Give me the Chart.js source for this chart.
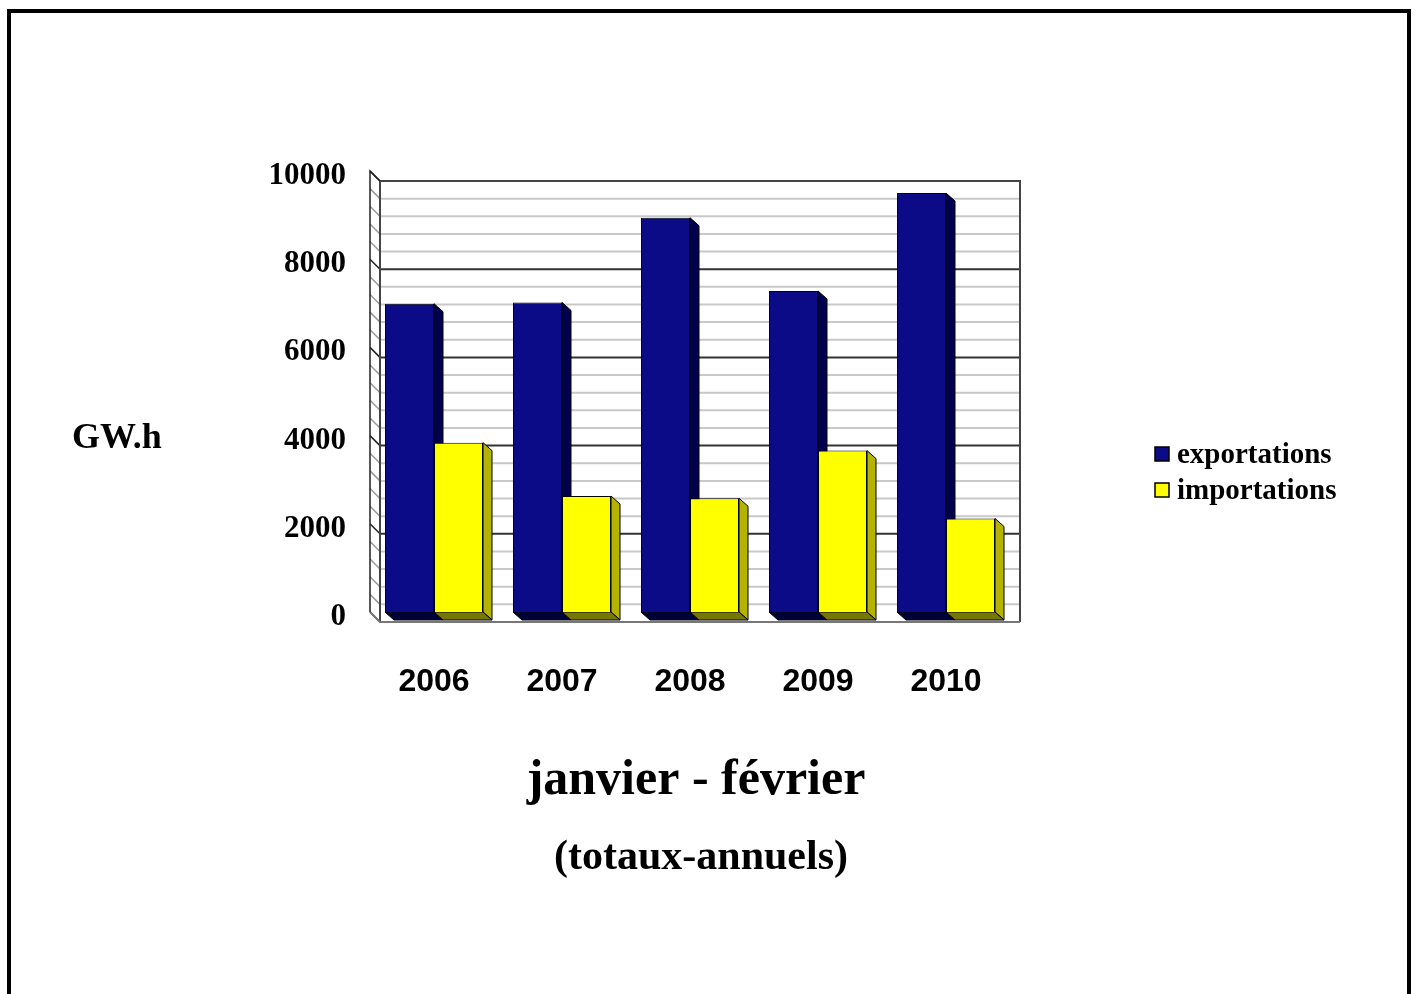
<!DOCTYPE html>
<html>
<head>
<meta charset="utf-8">
<script src="https://cdn.jsdelivr.net/npm/chart.js@4.4.1/dist/chart.umd.min.js"></script>
<style>
  html, body { margin: 0; padding: 0; background: #fff; overflow: hidden; }
  canvas { display: block; }
</style>
</head>
<body>
<canvas id="chart" width="1417" height="994"></canvas>
<script>
// valeurs (GW.h)
var years = ['2006', '2007', '2008', '2009', '2010'];
var exportations = [6990, 7020, 8940, 7280, 9500];
var importations = [3840, 2630, 2580, 3660, 2120];
var seriesNames = ['exportations', 'importations'];
var yMax = 10000;
var yMajorStep = 2000;
var yMinorStep = 400;

var frontColors = ['#0b0b88', '#ffff00'];
var sideColors = ['#000050', '#b4b400'];
var bottomColors = ['#00003a', '#767600'];
var serif = '"Liberation Serif", "Times New Roman", serif';

// fond 3D : mur du fond, mur gauche, sol et faces des barres
var wall3d = {
    id: 'wall3d',
    beforeDatasetsDraw: function(chart) {
        var ctx = chart.ctx;
        var a = chart.chartArea;
        var ys = chart.scales.y;
        var d = 10;
        ctx.save();
        // lignes de grille (mur du fond + mur gauche)
        ys.ticks.forEach(function(t) {
            var y = ys.getPixelForValue(t.value);
            var major = t.value % yMajorStep === 0;
            ctx.lineWidth = 2;
            ctx.strokeStyle = major ? '#333333' : '#c8c8c8';
            if (t.value !== 0 && t.value !== yMax) {
                ctx.beginPath();
                ctx.moveTo(a.left + d, y + d);
                ctx.lineTo(a.right + d, y + d);
                ctx.stroke();
            }
            ctx.lineWidth = 1.5;
            ctx.strokeStyle = major ? '#222222' : '#999999';
            ctx.beginPath();
            ctx.moveTo(a.left, y);
            ctx.lineTo(a.left + d, y + d);
            ctx.stroke();
        });
        // contour du mur du fond
        ctx.strokeStyle = '#444444';
        ctx.lineWidth = 2;
        ctx.beginPath();
        ctx.moveTo(a.left + d, a.bottom + d);
        ctx.lineTo(a.left + d, a.top + d);
        ctx.lineTo(a.right + d, a.top + d);
        ctx.lineTo(a.right + d, a.bottom + d);
        ctx.stroke();
        // sol
        ctx.strokeStyle = '#777777';
        ctx.beginPath();
        ctx.moveTo(a.left, a.bottom);
        ctx.lineTo(a.left + d, a.bottom + d);
        ctx.lineTo(a.right + d, a.bottom + d);
        ctx.stroke();
        // arête avant du mur gauche
        ctx.strokeStyle = '#222222';
        ctx.lineWidth = 1.5;
        ctx.beginPath();
        ctx.moveTo(a.left, a.bottom);
        ctx.lineTo(a.left, a.top);
        ctx.lineTo(a.left + d, a.top + d);
        ctx.stroke();

        // faces latérales et inférieures des barres
        var bx = 9, by = 8;
        ctx.lineWidth = 1;
        ctx.strokeStyle = '#000';
        chart.data.datasets.forEach(function(ds, i) {
            var meta = chart.getDatasetMeta(i);
            meta.data.forEach(function(bar) {
                var p = bar.getProps(['x', 'y', 'base', 'width'], true);
                var l = p.x - p.width / 2, r = p.x + p.width / 2;
                ctx.fillStyle = sideColors[i];
                ctx.beginPath();
                ctx.moveTo(r, p.y);
                ctx.lineTo(r + bx, p.y + by);
                ctx.lineTo(r + bx, p.base + by);
                ctx.lineTo(r, p.base);
                ctx.closePath();
                ctx.fill();
                ctx.stroke();
                ctx.fillStyle = bottomColors[i];
                ctx.beginPath();
                ctx.moveTo(l, p.base);
                ctx.lineTo(r, p.base);
                ctx.lineTo(r + bx, p.base + by);
                ctx.lineTo(l + bx, p.base + by);
                ctx.closePath();
                ctx.fill();
                ctx.stroke();
            });
        });
        ctx.restore();
    }
};

// textes, légende et cadre
var extras = {
    id: 'extras',
    afterDraw: function(chart) {
        var ctx = chart.ctx;
        ctx.save();
        ctx.fillStyle = '#000';
        ctx.textBaseline = 'middle';
        ctx.textAlign = 'left';
        ctx.font = 'bold 36px ' + serif;
        ctx.fillText('GW.h', 72, 439);

        ctx.textAlign = 'center';
        ctx.font = 'bold 50px ' + serif;
        ctx.fillText('janvier - février', 696, 781);
        ctx.font = 'bold 42px ' + serif;
        ctx.fillText('(totaux-annuels)', 701, 858);

        // légende
        ctx.textAlign = 'left';
        ctx.font = 'bold 29px ' + serif;
        seriesNames.forEach(function(name, i) {
            var y = 455 + i * 36;
            ctx.fillStyle = frontColors[i];
            ctx.fillRect(1155, y - 8, 14, 14);
            ctx.strokeStyle = '#000';
            ctx.lineWidth = 1.5;
            ctx.strokeRect(1155, y - 8, 14, 14);
            ctx.fillStyle = '#000';
            ctx.fillText(name, 1177, y + 1);
        });

        // cadre
        ctx.strokeStyle = '#000';
        ctx.lineWidth = 4;
        ctx.strokeRect(9, 11, 1400, 1000);
        ctx.restore();
    }
};

var ctx = document.getElementById('chart').getContext('2d');
var chart = new Chart(ctx, {
    type: 'bar',
    data: {
        labels: years,
        datasets: [{
            label: seriesNames[0],
            data: exportations,
            backgroundColor: frontColors[0],
            borderColor: '#000',
            borderWidth: 1
        }, {
            label: seriesNames[1],
            data: importations,
            backgroundColor: frontColors[1],
            borderColor: '#000',
            borderWidth: 1
        }]
    },
    options: {
        responsive: false,
        animation: false,
        devicePixelRatio: 1,
        categoryPercentage: 0.766,
        barPercentage: 1,
        layout: { padding: { left: 0, top: 171, right: 407, bottom: 0 } },
        plugins: {
            legend: { display: false },
            tooltip: { enabled: false }
        },
        scales: {
            x: {
                grid: { display: false, drawTicks: false },
                border: { display: false },
                ticks: {
                    color: '#000',
                    padding: 51,
                    font: { family: '"Liberation Sans", Arial, sans-serif', size: 32, weight: 'bold' }
                },
                afterFit: function(scale) { scale.height = 382; }
            },
            y: {
                min: 0,
                max: yMax,
                grid: { display: false, drawTicks: false },
                border: { display: false },
                ticks: {
                    stepSize: yMinorStep,
                    autoSkip: false,
                    color: '#000',
                    padding: 24,
                    labelOffset: 5,
                    font: { family: serif, size: 31, weight: 'bold' },
                    callback: function(v) { return v % yMajorStep === 0 ? v : ''; }
                },
                afterFit: function(scale) { scale.width = 370; }
            }
        }
    },
    plugins: [wall3d, extras]
});
</script>
</body>
</html>
